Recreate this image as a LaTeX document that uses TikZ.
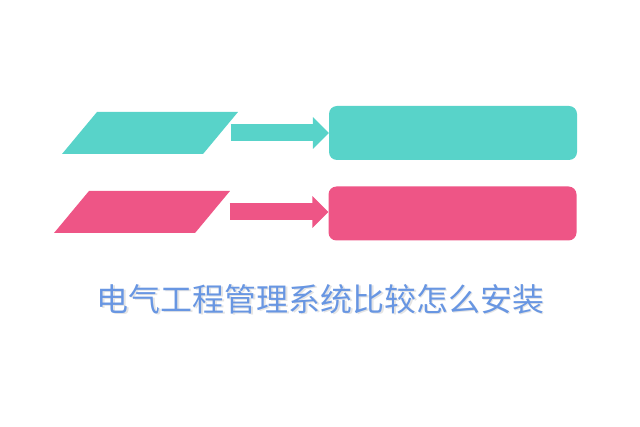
\documentclass[tikz,border=0pt]{standalone}
\usepackage{fontspec}
\newfontfamily\cjk{Noto Sans CJK SC}
\usetikzlibrary{arrows.meta, positioning}
\definecolor{tealc}{RGB}{88,211,201}
\definecolor{pinkc}{RGB}{238,85,134}
\definecolor{titleblue}{RGB}{104,150,226}
\begin{document}
\begin{tikzpicture}[
	x=1pt, y=-1pt,
	InBox/.style={rectangle, xslant=0.833, transform shape,
		minimum width=141pt, minimum height=42pt, inner sep=0pt, draw=none},
	OutBox/.style={rectangle, rounded corners=8pt, minimum width=248pt,
		minimum height=54pt, inner sep=0pt, draw=none},
	BigArrow/.style={line width=17pt, -{Triangle[length=16pt, width=31pt]}},
	TitleText/.style={font=\cjk\fontsize{32}{32}\selectfont}
	]
\useasboundingbox (0,0) rectangle (640,427);

\node [InBox, fill=tealc] (tealin) at (150,133) {};
\node [OutBox, fill=tealc] (tealout) at (453,133) {};
\node [InBox, fill=pinkc] (pinkin) at (142,212) {};
\node [OutBox, fill=pinkc] (pinkout) at (452.5,213.5) {};
\draw [BigArrow, draw=tealc, shorten <=10pt] (tealin.east) -- (tealout.west |- tealin.east);
\draw [BigArrow, draw=pinkc, shorten <=17pt] (pinkin.east) -- (pinkout.west |- pinkin.east);

% title with soft shadow
\node [TitleText, text=black!30, opacity=0.35] (shadow) at (322,300.5) {电气工程管理系统比较怎么安装};
\node [TitleText, text=titleblue] (title) at (320.5,299) {电气工程管理系统比较怎么安装};

\end{tikzpicture}
\end{document}
